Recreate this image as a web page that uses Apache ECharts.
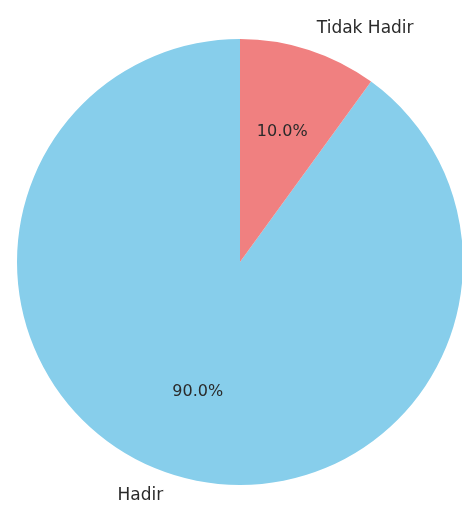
<!DOCTYPE html>
<html>
<head>
<meta charset="utf-8">
<script src="https://cdn.jsdelivr.net/npm/echarts@6/dist/echarts.min.js"></script>
<style>html,body{margin:0;padding:0;background:#fff;}#c{width:462px;height:506px;}</style>
</head>
<body>
<div id="c"></div>
<script>
const categories = ['Hadir', 'Tidak Hadir'];
const values = [90, 10];
const colors = ['#87CEEB', '#F08080'];

const R = 223;
const data = categories.map((c, i) => ({ name: c, value: values[i], itemStyle: { color: colors[i] } }));
const total = values.reduce((a, b) => a + b, 0);
const font = { fontFamily: 'DejaVu Sans', fontSize: 17, color: '#2a2a2a' };

const chart = echarts.init(document.getElementById('c'), null, { renderer: 'canvas' });
chart.setOption({
  animation: false,
  series: [
    {
      type: 'pie',
      center: [240, 262],
      radius: [0, R],
      startAngle: 90,
      clockwise: false,
      avoidLabelOverlap: false,
      silent: true,
      emphasis: { disabled: true },
      data: data,
      label: Object.assign({ show: true, position: 'outside', distanceToLabelLine: 1, formatter: '{b}' }, font, { letterSpacing: 0.5 }),
      labelLine: { show: false, length: R * 0.1, length2: 0 }
    },
    {
      type: 'pie',
      center: [240, 262],
      radius: [0, R * 1.2],
      startAngle: 90,
      clockwise: false,
      avoidLabelOverlap: false,
      silent: true,
      emphasis: { disabled: true },
      data: data.map(d => ({ name: d.name, value: d.value, itemStyle: { color: 'rgba(0,0,0,0)' } })),
      label: Object.assign({ show: true, position: 'inside',
        formatter: p => (p.value / total * 100).toFixed(1) + '%' }, font, { fontSize: 16 }),
      labelLine: { show: false }
    }
  ]
});
</script>
</body>
</html>
